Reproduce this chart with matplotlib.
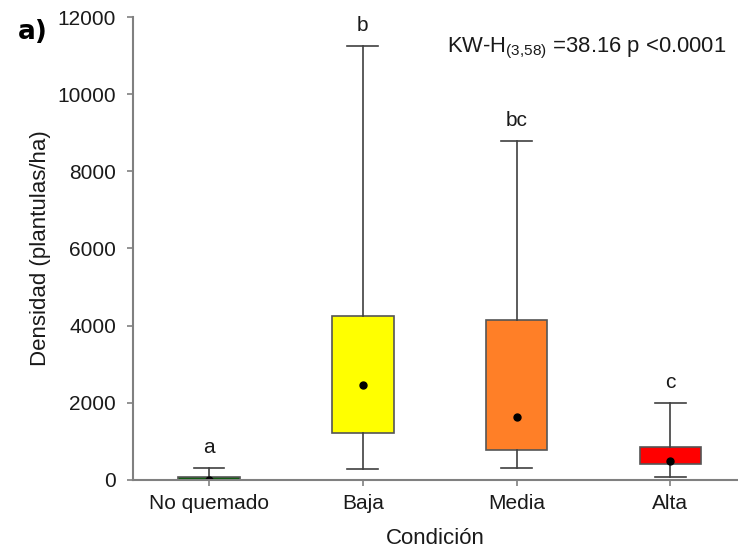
import matplotlib
matplotlib.use('Agg')
import matplotlib.pyplot as plt

plt.rcParams['font.family'] = ['Liberation Sans', 'DejaVu Sans']
plt.rcParams['mathtext.default'] = 'regular'

# data
condiciones = ['No quemado', 'Baja', 'Media', 'Alta']
q1 = [0, 1218, 778, 415]
q3 = [86, 4251, 4147, 863]
bigote_inf = [0, 285, 311, 86]
bigote_sup = [319, 11250, 8790, 1996]
mediana = [0, 2462, 1633, 500]
letras = ['a', 'b', 'bc', 'c']
colores = ['#0b5e0b', '#ffff00', '#ff7f27', '#ff0000']

stats = []
for i in range(len(condiciones)):
    stats.append({'q1': q1[i], 'q3': q3[i], 'whislo': bigote_inf[i],
                  'whishi': bigote_sup[i], 'med': mediana[i],
                  'mean': mediana[i], 'fliers': []})

fig = plt.figure(figsize=(7.38, 5.54), dpi=100)
ax = fig.add_axes([0.180, 0.1336, 0.82, 0.8357])

pos = [1, 2, 3, 4]
bp = ax.bxp(stats, positions=pos, widths=0.4, patch_artist=True, showmeans=True,
            boxprops=dict(edgecolor='#555555', linewidth=1.2),
            whiskerprops=dict(color='#404040', linewidth=1.2),
            capprops=dict(color='#404040', linewidth=1.2),
            medianprops=dict(linewidth=0),
            meanprops=dict(marker='o', markerfacecolor='black', markeredgecolor='black', markersize=5),
            capwidths=0.2)
for caja, c in zip(bp['boxes'], colores):
    caja.set_facecolor(c)

for i in range(len(condiciones)):
    ax.text(pos[i], bigote_sup[i] + 530, letras[i], ha='center', va='center', fontsize=15, color='#1a1a1a')

ax.set_xlim(0.505, 4.44)
ax.set_ylim(0, 12000)
ax.set_yticks([0, 2000, 4000, 6000, 8000, 10000, 12000])
ax.set_xticks(pos)
ax.set_xticklabels(condiciones)
ax.tick_params(axis='both', labelsize=15, colors='#808080', labelcolor='#1a1a1a', length=4, width=1.2)
ax.tick_params(axis='y', pad=8)
ax.tick_params(axis='x', pad=6)
for s in ['top', 'right']:
    ax.spines[s].set_visible(False)
for s in ['left', 'bottom']:
    ax.spines[s].set_color('#808080')
    ax.spines[s].set_linewidth(1.5)

ax.set_ylabel('Densidad (plantulas/ha)', fontsize=16, color='#1a1a1a', labelpad=5)
ax.set_xlabel('Condición', fontsize=16, color='#1a1a1a', labelpad=11)

fig.text(447 / 738, 1 - 48 / 554, 'KW-H$_{(3{,}58)}$ =38.16 p <0.0001', fontsize=15.8, va='center', color='#1a1a1a')
fig.text(18 / 738, 1 - 32 / 554, 'a)', fontsize=19, fontweight='bold', va='center', family='DejaVu Sans')

fig.savefig('out.png', dpi=100)
